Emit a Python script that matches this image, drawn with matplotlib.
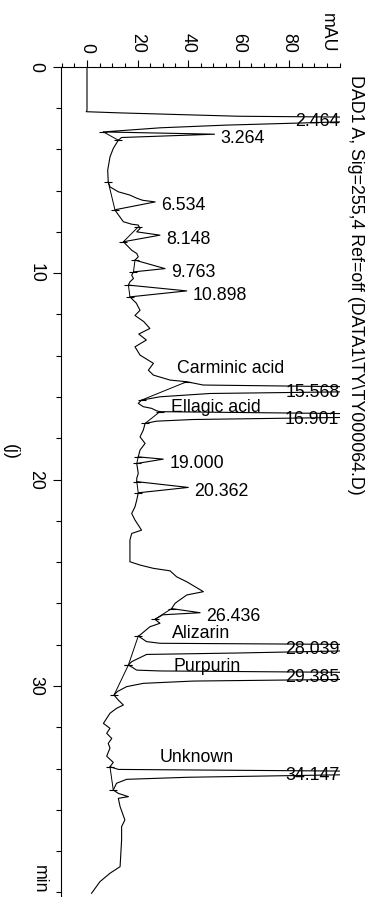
import matplotlib
matplotlib.use("Agg")
import matplotlib.pyplot as plt
from matplotlib.ticker import FixedLocator, MultipleLocator

plt.rcParams['font.family'] = ['Liberation Sans', 'DejaVu Sans']

# chromatogram trace: time (min) and absorbance (mAU)
time_min = [0.00, 2.10, 2.18, 2.24, 2.40, 2.44, 2.47, 2.67, 2.83, 2.96, 3.16, 3.27, 3.43, 3.56,
            3.96, 4.37, 5.01, 5.58, 5.82, 6.06, 6.22, 6.37, 6.47, 6.55, 6.92, 6.95, 7.51, 7.63,
            7.67, 7.84, 8.00, 8.16, 8.48, 8.73, 8.89, 9.05, 9.21, 9.37, 9.78, 9.94, 10.10, 10.26,
            10.42, 10.58, 10.86, 11.15, 11.45, 11.80, 12.05, 12.35, 12.68, 12.95, 13.24, 13.57,
            13.97, 14.37, 14.70, 14.94, 15.18, 15.26, 15.42, 15.50, 15.57, 15.75, 15.83, 15.99,
            16.15, 16.31, 16.47, 16.55, 16.67, 16.71, 16.80, 16.90, 16.99, 17.09, 17.17, 17.28,
            17.60, 17.93, 18.25, 18.57, 18.90, 19.01, 19.22, 19.70, 19.94, 20.10, 20.38, 20.64,
            20.99, 21.32, 21.64, 21.96, 22.45, 22.61, 22.93, 23.58, 23.98, 24.14, 24.30, 24.42,
            24.71, 24.95, 25.19, 25.43, 25.59, 25.99, 26.25, 26.45, 26.55, 26.77, 26.96, 27.13,
            27.53, 27.58, 27.85, 27.93, 27.98, 28.04, 28.30, 28.40, 28.47, 28.82, 28.98, 29.23,
            29.27, 29.34, 29.39, 29.68, 29.76, 29.87, 30.03, 30.27, 30.44, 30.68, 30.92, 31.08,
            31.32, 31.81, 32.05, 32.29, 32.54, 32.78, 33.00, 33.40, 33.70, 33.91, 34.04, 34.12,
            34.15, 34.30, 34.42, 34.52, 34.71, 35.04, 35.20, 35.36, 35.44, 35.84, 36.49, 36.81,
            37.46, 38.75, 39.07, 39.48, 40.04]
signal_mau = [0.0, 0.0, -0.3, 13.7, 60.0, 101.0, 160.0, 101.0, 55.0, 29.0, 6.5, 50.5, 13.7, 12.4,
              10.4, 9.1, 8.2, 8.4, 9.1, 12.4, 17.0, 19.7, 22.0, 27.0, 11.5, 11.1, 14.4, 17.7,
              20.3, 21.0, 19.7, 28.9, 14.4, 16.4, 17.7, 19.7, 20.3, 19.0, 30.9, 18.4, 17.7, 18.4,
              17.0, 16.4, 39.5, 17.0, 19.5, 21.0, 19.0, 22.5, 24.9, 20.5, 23.5, 19.0,
              21.0, 26.3, 24.3, 26.3, 32.9, 39.5, 46.0, 101.0, 180.0, 101.0, 48.7, 28.9,
              21.6, 20.3, 22.3, 25.6, 27.6, 28.9, 101.0, 170.0, 101.0, 42.0, 27.6, 23.0,
              22.3, 21.0, 23.0, 21.0, 20.3, 30.2, 19.7, 20.3, 19.7, 19.7, 40.1, 20.3,
              19.7, 19.0, 17.7, 19.0, 21.6, 17.7, 17.0, 17.0, 17.0, 21.0, 26.3, 32.9,
              35.5, 39.5, 42.8, 46.1, 39.5, 34.9, 33.5, 44.8, 30.0, 26.9, 28.9, 24.9,
              21.0, 20.3, 23.6, 28.9, 101.0, 170.0, 101.0, 60.0, 23.6, 17.7, 16.4, 19.7,
              28.9, 101.0, 170.0, 101.0, 42.1, 22.3, 15.7, 12.0, 10.7, 12.4, 14.4, 11.7,
              9.1, 6.5, 9.1, 7.8, 9.8, 8.4, 9.1, 7.8, 10.4, 9.1, 12.4, 101.0,
              170.0, 101.0, 40.0, 15.7, 11.7, 10.4, 12.4, 16.4, 12.4, 13.1, 15.0, 13.7,
              13.7, 13.1, 9.1, 5.1, 1.8]

# integration baselines (start time, start level, end time, end level)
base_t0 = [3.16, 5.58, 7.76, 9.37, 10.58, 15.26, 16.71, 18.90, 20.10, 26.25, 27.58, 28.98, 33.91]
base_y0 = [6.5, 8.4, 20.3, 19.0, 16.4, 39.5, 28.9, 20.3, 19.7, 33.5, 20.3, 16.4, 9.1]
base_t1 = [3.56, 6.95, 8.48, 9.94, 11.15, 16.15, 17.28, 19.22, 20.64, 26.77, 28.98, 30.44, 35.04]
base_y1 = [12.4, 11.1, 14.4, 18.4, 17.0, 21.6, 23.0, 19.7, 20.3, 26.9, 16.4, 10.7, 10.4]

# peak retention times and the level of their tips (100 = off scale)
peak_rt = [2.464, 3.264, 6.534, 8.148, 9.763, 10.898, 15.568, 16.901, 19.000, 20.362,
           26.436, 28.039, 29.385, 34.147]
peak_tip = [100, 50.5, 27.0, 28.9, 30.9, 39.5, 100, 100, 30.2, 40.1, 44.8, 100, 100, 100]

compound_names = ["Carminic acid", "Ellagic acid", "Alizarin", "Purpurin", "Unknown"]
compound_t = [14.62, 16.50, 27.45, 29.04, 33.45]
compound_mau = [57.0, 51.0, 45.1, 47.5, 43.6]

title = r"DAD1 A, Sig=255,4 Ref=off (DATA1\TY\TY000064.D)"
fs = 12.8

fig = plt.figure(figsize=(3.81, 8.97), dpi=100)
ax = fig.add_axes([61 / 381, 0, (339.5 - 61) / 381, 1 - 66.7 / 897])
ax.set_xlim(-10.3, 100)
ax.set_ylim(40.22, 0)

ax.plot(signal_mau, time_min, color='black', lw=0.8)
for t0, y0, t1, y1 in zip(base_t0, base_y0, base_t1, base_y1):
    ax.plot([y0, y1], [t0, t1], color='black', lw=0.7)
    ax.plot([y0, y1], [t0, t1], ls='none', marker='_', ms=6, mew=0.8, color='black')

for rt, tip in zip(peak_rt, peak_tip):
    if tip >= 100:
        ax.annotate(f"{rt:.3f}", xy=(100, rt), xytext=(0, -3), textcoords='offset points',
                    ha='right', va='center', fontsize=fs)
    else:
        ax.annotate(f"{rt:.3f}", xy=(tip + 2.5, rt), xytext=(0, -3), textcoords='offset points',
                    ha='left', va='center', fontsize=fs)

for name, t, m in zip(compound_names, compound_t, compound_mau):
    ax.text(m, t, name, ha='center', va='center', fontsize=fs)

for s in ['right', 'bottom']:
    ax.spines[s].set_visible(False)
for s in ['top', 'left']:
    ax.spines[s].set_linewidth(0.8)

ax.xaxis.tick_top()
ax.set_xticks([0, 20, 40, 60, 80])
ax.xaxis.set_minor_locator(FixedLocator(list(range(-10, 101, 5))))
ax.set_yticks([0, 10, 20, 30])
ax.yaxis.set_minor_locator(MultipleLocator(2))
ax.tick_params(axis='x', which='major', length=5, width=0.8, pad=5, labelsize=fs, labelrotation=-90)
ax.tick_params(axis='x', which='minor', length=2.7, width=0.8)
ax.tick_params(axis='y', which='major', length=6, width=0.8, pad=6, labelsize=fs, labelrotation=-90)
ax.tick_params(axis='y', which='minor', length=3.6, width=0.8)
for lab in ax.get_yticklabels():
    lab.set_va('center')

fig.text(327 / 381, 1 - 13 / 897, "mAU", rotation=-90, ha='center', va='top', fontsize=fs)
fig.text(355 / 381, 1 - 75 / 897, title, rotation=-90, ha='center', va='top', fontsize=fs)
fig.text(10 / 381, 1 - 452 / 897, "(j)", rotation=-90, ha='center', va='center', fontsize=fs)
fig.text(39 / 381, 1 - 865 / 897, "min", rotation=-90, ha='center', va='top', fontsize=fs)

fig.savefig("out.png", dpi=100)
